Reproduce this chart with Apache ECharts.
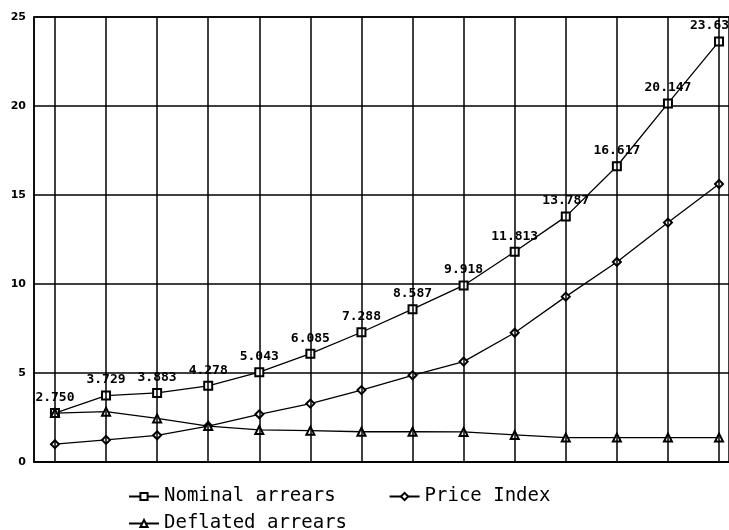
<!DOCTYPE html>
<html>
<head>
<meta charset="utf-8">
<script src="https://cdn.jsdelivr.net/npm/echarts@6/dist/echarts.min.js"></script>
<style>html,body{margin:0;padding:0;background:#fff}#c{width:729px;height:530px}</style>
</head>
<body>
<div id="c"></div>
<script>
const periods = [1,2,3,4,5,6,7,8,9,10,11,12,13,14];
const nominal = [2.750, 3.729, 3.883, 4.278, 5.043, 6.085, 7.288, 8.587, 9.918, 11.813, 13.787, 16.617, 20.147, 23.63];
const nominalLabels = ["2.750","3.729","3.883","4.278","5.043","6.085","7.288","8.587","9.918","11.813","13.787","16.617","20.147","23.63"];
const priceIndex = [1.00, 1.24, 1.50, 2.02, 2.68, 3.28, 4.04, 4.87, 5.64, 7.26, 9.29, 11.24, 13.45, 15.62];
const deflated = [2.75, 2.83, 2.45, 2.02, 1.80, 1.76, 1.70, 1.70, 1.69, 1.52, 1.37, 1.37, 1.37, 1.37];
const seriesNames = ["Nominal arrears", "Price Index", "Deflated arrears"];

const chart = echarts.init(document.getElementById('c'), null, {renderer:'canvas'});
const black = '#000';
const lineW = 1.5;

const nominalData = periods.map((p, i) => {
  const item = {value:[p, nominal[i]], lbl: nominalLabels[i]};
  if (i === periods.length - 1) {
    item.label = {align:'right', offset:[10, 0]};
  }
  return item;
});

const baseSeries = (name, data, symbol) => ({
  name, type:'line', data, symbol, symbolSize:8, showSymbol:true,
  lineStyle:{color:black, width:1.3},
  itemStyle:{color:black, borderColor:black, borderWidth:1.3},
  animation:false, z:3
});

const s1 = baseSeries(seriesNames[0], nominalData, 'emptyRect');
s1.label = {show:true, position:'top', distance:4, color:black,
  fontFamily:'DejaVu Sans Mono', fontSize:13, fontWeight:'bold',
  formatter:(p)=>p.data.lbl};
s1.markLine = {
  silent:true, symbol:['none','none'], animation:false,
  label:{show:false},
  lineStyle:{color:black, width:lineW, type:'solid'},
  data: periods.map(p => ({xAxis:p}))
};
const s2 = baseSeries(seriesNames[1], periods.map((p,i)=>[p, priceIndex[i]]), 'emptyDiamond');
const s3 = baseSeries(seriesNames[2], periods.map((p,i)=>[p, deflated[i]]), 'emptyTriangle');

const legendText = {fontFamily:'DejaVu Sans Mono', fontSize:19, color:black};
chart.setOption({
  backgroundColor:'#fff',
  animation:false,
  grid:{left:34, right:-1, top:17, bottom:68, show:true, borderColor:black, borderWidth:lineW},
  xAxis:{type:'value', min:0.59, max:14.195,
    axisLine:{show:true, lineStyle:{color:black, width:lineW}},
    axisTick:{show:false}, axisLabel:{show:false}, splitLine:{show:false}},
  yAxis:{type:'value', min:0, max:25, interval:5,
    axisLine:{show:true, lineStyle:{color:black, width:lineW}},
    axisTick:{show:false},
    axisLabel:{color:black, fontFamily:'DejaVu Sans', fontWeight:'bold', fontSize:11, margin:8},
    splitLine:{show:true, lineStyle:{color:black, width:lineW}}},
  legend:[
    {data:[seriesNames[0], seriesNames[1]], left:123, top:482, itemWidth:30, itemHeight:9,
     itemGap:53, textStyle:legendText, selectedMode:false},
    {data:[seriesNames[2]], left:123, top:509, itemWidth:30, itemHeight:9,
     textStyle:legendText, selectedMode:false}
  ],
  series:[s1, s2, s3]
});
</script>
</body>
</html>
